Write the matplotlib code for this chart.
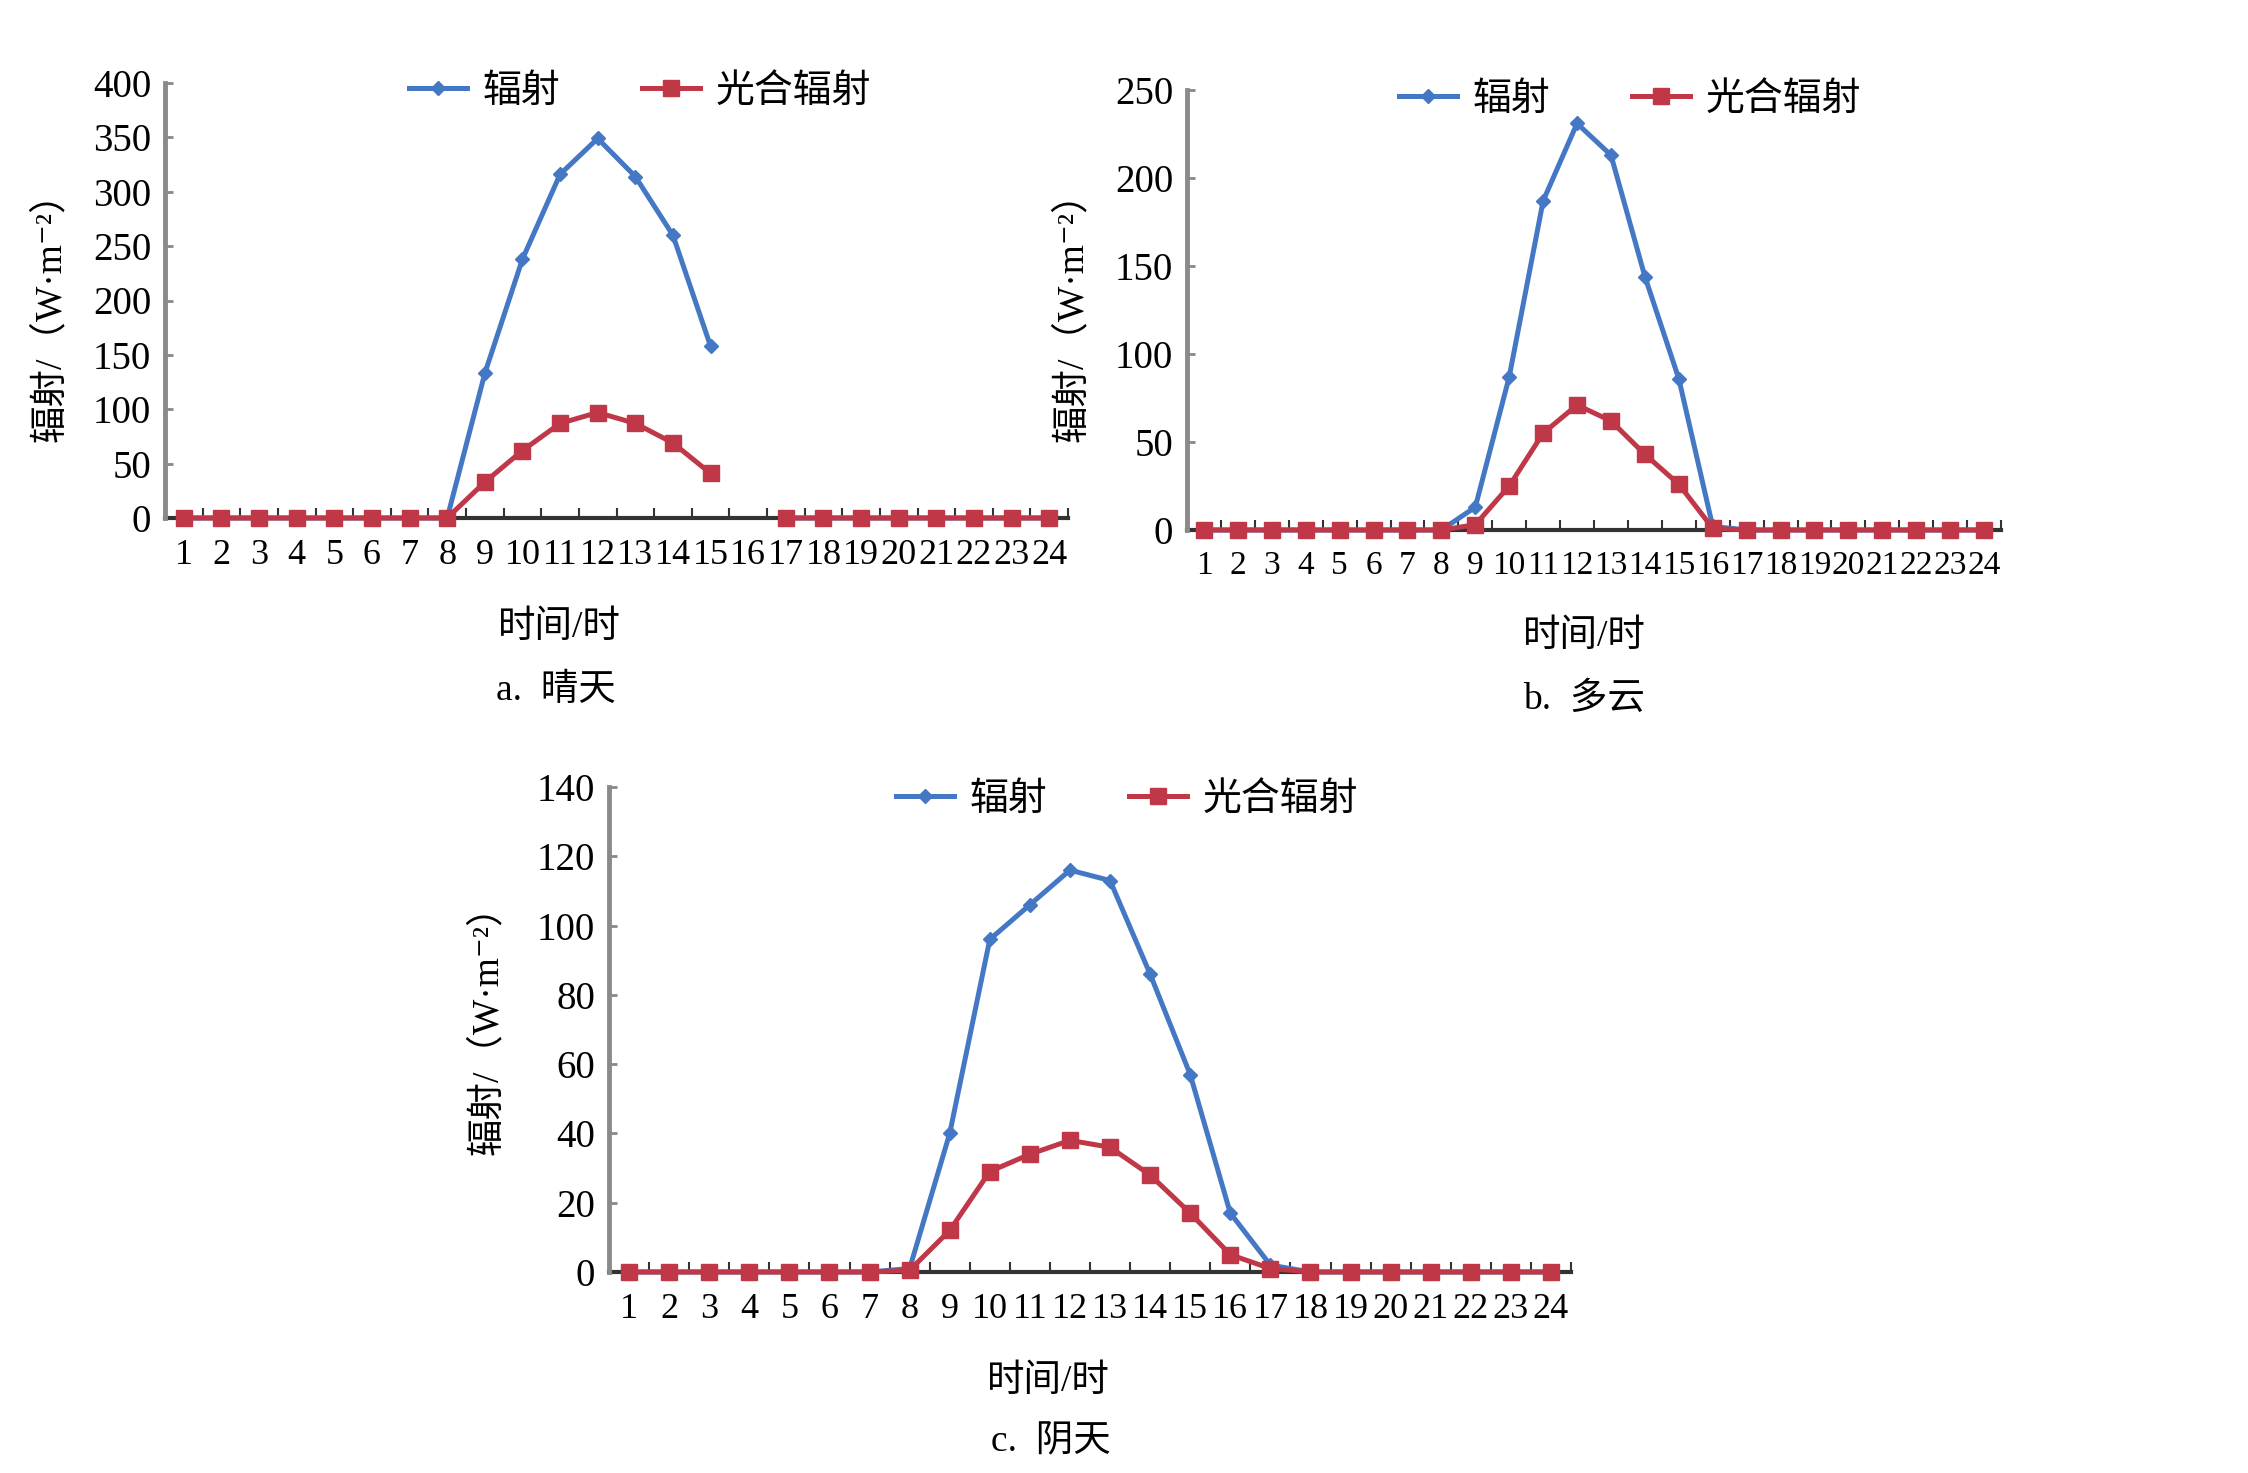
import numpy as np
import matplotlib
matplotlib.use("Agg")
from matplotlib import pyplot as plt

plt.rcParams['font.family'] = ['Liberation Serif', 'Noto Sans CJK SC', 'DejaVu Serif']

hours = np.arange(1, 25)
nan = np.nan

# a. 晴天
sunny_rad = [0, 0, 0, 0, 0, 0, 0, 0, 133, 238, 316, 349, 314, 260, 158, nan,
             0, 0, 0, 0, 0, 0, 0, 0]
sunny_par = [0, 0, 0, 0, 0, 0, 0, 0, 33, 62, 87, 97, 87, 69, 41, nan,
             0, 0, 0, 0, 0, 0, 0, 0]
# b. 多云
cloudy_rad = [0, 0, 0, 0, 0, 0, 0, 0, 13, 87, 187, 231, 213, 144, 86, 2,
              0, 0, 0, 0, 0, 0, 0, 0]
cloudy_par = [0, 0, 0, 0, 0, 0, 0, 0, 3, 25, 55, 71, 62, 43, 26, 1,
              0, 0, 0, 0, 0, 0, 0, 0]
# c. 阴天
overcast_rad = [0, 0, 0, 0, 0, 0, 0, 1, 40, 96, 106, 116, 113, 86, 57, 17,
                2, 0, 0, 0, 0, 0, 0, 0]
overcast_par = [0, 0, 0, 0, 0, 0, 0, 0.5, 12, 29, 34, 38, 36, 28, 17, 5,
                1, 0, 0, 0, 0, 0, 0, 0]

blue = "#4477C4"
red = "#C03848"
W, H = 2248, 1473

fig = plt.figure(figsize=(W / 100, H / 100), dpi=100)


def px_axes(l, r, t, b):
    return fig.add_axes([l / W, 1 - b / H, (r - l) / W, (b - t) / H])


def draw(ax, rad, par, ymax, ystep, xsize=26):
    l1, = ax.plot(hours, rad, color=blue, lw=3.6, marker='D', ms=7.5,
                  mfc=blue, mec=blue, clip_on=False, zorder=3, label="辐射")
    l2, = ax.plot(hours, par, color=red, lw=3.6, marker='s', ms=12,
                  mfc=red, mec=red, clip_on=False, zorder=4, label="光合辐射")
    ax.set_xlim(0.5, 24.5)
    ax.set_ylim(0, ymax)
    ax.set_xticks(hours)
    ax.set_xticks(np.arange(0.5, 25, 1), minor=True)
    ax.set_yticks(np.arange(0, ymax + 1, ystep))
    ax.tick_params(axis='x', which='major', length=0, pad=15, labelsize=xsize)
    ax.tick_params(axis='x', which='minor', direction='in', length=7,
                   width=1.5, color='#333333')
    ax.tick_params(axis='y', direction='in', length=6, width=2,
                   color='#888888', pad=10, labelsize=28)
    for s in ['top', 'right']:
        ax.spines[s].set_visible(False)
    ax.spines['left'].set_color('#8a8a8a')
    ax.spines['left'].set_linewidth(3.5)
    ax.spines['bottom'].set_color('#333333')
    ax.spines['bottom'].set_linewidth(3)
    ax.spines['bottom'].set_zorder(2)
    return l1, l2


def legend(handles, cx, cy):
    fig.legend(handles=handles, loc='center', bbox_to_anchor=(cx / W, 1 - cy / H),
               ncol=2, frameon=False, fontsize=28, handlelength=1.5,
               handletextpad=0.4, columnspacing=2.1)


ylab = "辐射/（W·m⁻²）"
fs = 27

ax_a = px_axes(165, 1068, 83, 518)
h = draw(ax_a, sunny_rad, sunny_par, 400, 50)
legend(h, 640, 92)
fig.text(50 / W, 1 - 308 / H, ylab, rotation=90, ha='center', va='center', fontsize=fs)
fig.text(559 / W, 1 - 628 / H, "时间/时", ha='center', va='center', fontsize=fs)
fig.text(556 / W, 1 - 691 / H, "a.  晴天", ha='center', va='center', fontsize=fs)

ax_b = px_axes(1187, 2001, 90, 530)
h = draw(ax_b, cloudy_rad, cloudy_par, 250, 50, xsize=24)
legend(h, 1630, 100)
fig.text(1072 / W, 1 - 308 / H, ylab, rotation=90, ha='center', va='center', fontsize=fs)
fig.text(1584 / W, 1 - 637 / H, "时间/时", ha='center', va='center', fontsize=fs)
fig.text(1584 / W, 1 - 700 / H, "b.  多云", ha='center', va='center', fontsize=fs)

ax_c = px_axes(609, 1571, 787, 1272)
h = draw(ax_c, overcast_rad, overcast_par, 140, 20)
legend(h, 1127, 800)
fig.text(487 / W, 1 - 1021 / H, ylab, rotation=90, ha='center', va='center', fontsize=fs)
fig.text(1048 / W, 1 - 1382 / H, "时间/时", ha='center', va='center', fontsize=fs)
fig.text(1051 / W, 1 - 1442 / H, "c.  阴天", ha='center', va='center', fontsize=fs)

fig.savefig("out.png", dpi=100)
